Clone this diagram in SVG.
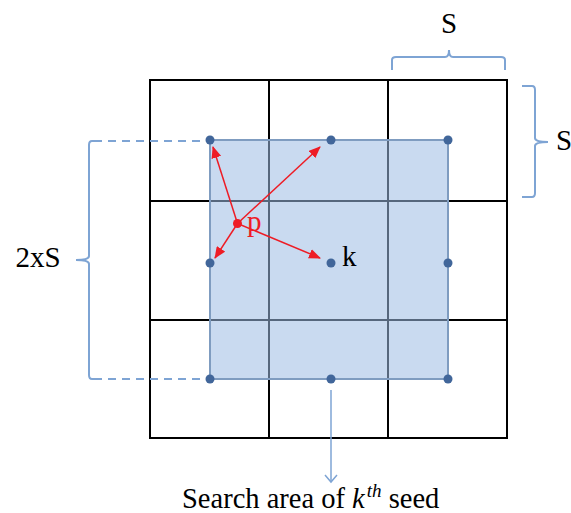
<svg xmlns="http://www.w3.org/2000/svg" width="571" height="513" viewBox="0 0 571 513">
<style>
.grid{fill:none;stroke:#000;stroke-width:2}
.brace{fill:none;stroke:#7ea4d4;stroke-width:2}
.dash{fill:none;stroke:#7ea4d4;stroke-width:2;stroke-dasharray:8,6}
.dot{fill:#41669a}
.red{stroke:#ee1c25;stroke-width:1.5;fill:none}
text{font-family:'Liberation Serif','DejaVu Serif',serif}
</style>
<defs>
<marker id="ra" markerWidth="12" markerHeight="10" refX="11" refY="5" orient="auto" markerUnits="userSpaceOnUse">
<path d="M0,0 L12,5 L0,10 Z" fill="#ee1c25"/>
</marker>
<marker id="ba" markerWidth="14" markerHeight="14" refX="12" refY="7" orient="auto" markerUnits="userSpaceOnUse">
<path d="M5,1 L12,7 L5,13" fill="none" stroke="#7ea4d4" stroke-width="1.5"/>
</marker>
</defs>
<g id="grid">
<rect class="grid" x="150" y="80" width="357" height="358"/>
<line class="grid" x1="269" y1="80" x2="269" y2="438"/>
<line class="grid" x1="388" y1="80" x2="388" y2="438"/>
<line class="grid" x1="150" y1="201" x2="507" y2="201"/>
<line class="grid" x1="150" y1="320" x2="507" y2="320"/>
</g>
<g id="search-area">
<rect x="210" y="140" width="238" height="239" fill="#9dbce3" fill-opacity="0.55" stroke="#7f9cc0" stroke-width="2"/>
</g>
<g id="seeds">
<circle class="dot" cx="210" cy="140" r="4.5"/>
<circle class="dot" cx="331" cy="140" r="4.5"/>
<circle class="dot" cx="448" cy="140" r="4.5"/>
<circle class="dot" cx="210" cy="263" r="4.5"/>
<circle class="dot" cx="331" cy="263" r="4.5"/>
<circle class="dot" cx="448" cy="263" r="4.5"/>
<circle class="dot" cx="210" cy="379" r="4.5"/>
<circle class="dot" cx="331" cy="379" r="4.5"/>
<circle class="dot" cx="448" cy="379" r="4.5"/>
<text x="342" y="266" font-size="29" fill="#000">k</text>
</g>
<g id="connectors">
<line class="red" x1="237.5" y1="223.5" x2="213" y2="147" marker-end="url(#ra)"/>
<line class="red" x1="237.5" y1="223.5" x2="320" y2="147" marker-end="url(#ra)"/>
<line class="red" x1="237.5" y1="223.5" x2="215" y2="258" marker-end="url(#ra)"/>
<line class="red" x1="237.5" y1="223.5" x2="320" y2="258" marker-end="url(#ra)"/>
<line x1="331" y1="390" x2="331" y2="482" stroke="#7ea4d4" stroke-width="1.5" marker-end="url(#ba)"/>
</g>
<g id="pixel-p">
<circle cx="237.5" cy="223.5" r="4.5" fill="#ee1c25"/>
<text x="247" y="231" font-size="29" fill="#ee1c25">p</text>
</g>
<g id="brace-top">
<path class="brace" d="M392,70 V60 Q392,57 396,57 H445 Q449,57 449,50 Q449,57 453,57 H501 Q505,57 505,60 V70"/>
<text x="449" y="33" text-anchor="middle" font-size="29" fill="#000">S</text>
</g>
<g id="brace-right">
<path class="brace" d="M522,86 H532 Q535,86 535,90 V138 Q535,142 548,142 Q535,142 535,146 V193 Q535,197 532,197 H522"/>
<text x="556" y="150" font-size="29" fill="#000">S</text>
</g>
<g id="brace-left">
<path class="dash" d="M94,141 H205"/>
<path class="dash" d="M94,379 H205"/>
<path class="brace" d="M94,141 H92 Q89,141 89,145 V256 Q89,260 76,260 Q89,260 89,264 V375 Q89,379 92,379 H94"/>
<text x="38" y="267" text-anchor="middle" font-size="29" fill="#000">2xS</text>
</g>
<g id="caption">
<text x="182" y="508" font-size="28.5" fill="#000">Search area of <tspan font-style="italic">k</tspan><tspan font-style="italic" font-size="19" dy="-11" dx="2">th</tspan><tspan dy="11"> seed</tspan></text>
</g>
</svg>
